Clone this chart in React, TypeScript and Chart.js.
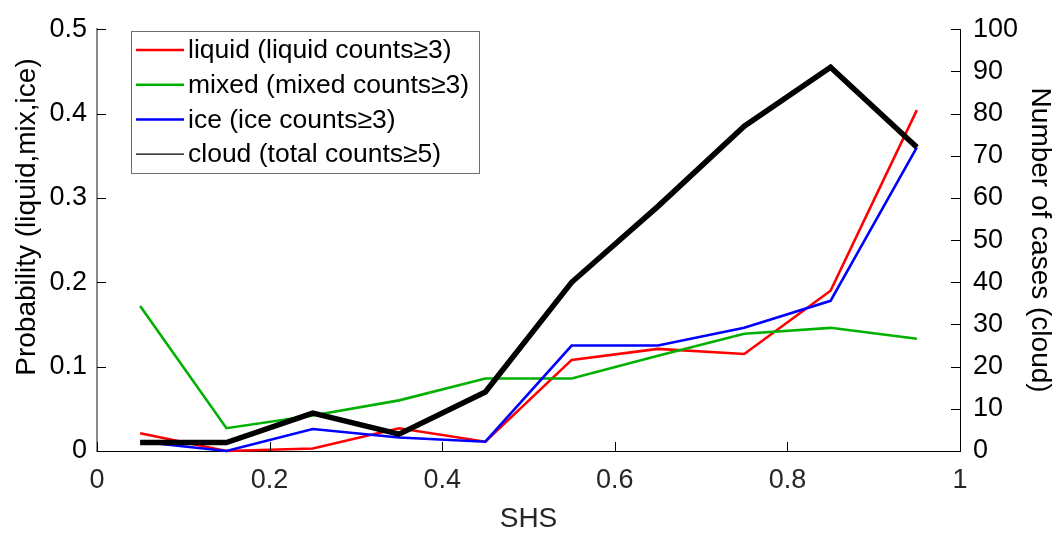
import { useEffect, useRef } from "react";
import { Chart, registerables } from "chart.js";

Chart.register(...registerables);

const FONT = '"Liberation Sans", Arial, Helvetica, sans-serif';

// SHS bin centres and per-bin values
const shsBins = [0.05, 0.15, 0.25, 0.35, 0.45, 0.55, 0.65, 0.75, 0.85, 0.95];
const liquidProb = [0.021, 0.0, 0.003, 0.027, 0.011, 0.108, 0.121, 0.115, 0.19, 0.404];
const mixedProb = [0.172, 0.027, 0.042, 0.06, 0.086, 0.086, 0.113, 0.139, 0.146, 0.133];
const iceProb = [0.011, 0.0, 0.026, 0.016, 0.011, 0.125, 0.125, 0.146, 0.178, 0.36];
const cloudCases = [2, 2, 9, 4, 14, 40, 58, 77, 91, 72];

// Axis ticks
const shsTicks = [0, 0.2, 0.4, 0.6, 0.8, 1];
const probTicks = [0, 0.1, 0.2, 0.3, 0.4, 0.5];
const caseTicks = [0, 10, 20, 30, 40, 50, 60, 70, 80, 90, 100];

const seriesLabels = [
  "liquid (liquid counts\u22653)",
  "mixed (mixed counts\u22653)",
  "ice (ice counts\u22653)",
  "cloud (total counts\u22655)",
];
const seriesColors = ["#ff0000", "#00b000", "#0000ff", "#000000"];

const probTitle = "Probability (liquid,mix,ice)";
const casesTitle = "Number of cases (cloud)";
const shsTitle = "SHS";

const toPoints = (ys: number[]) => shsBins.map((x, i) => ({ x, y: ys[i] }));

// Inward tick marks, the boxed legend and the left axis title
const axisDecor = {
  id: "axisDecor",
  afterDraw(chart: any) {
    const { ctx, chartArea, scales } = chart;
    const { left, right, bottom } = chartArea;
    const tickLen = 9;
    ctx.save();
    ctx.strokeStyle = "#000";
    ctx.lineWidth = 1;
    ctx.beginPath();
    for (const v of probTicks) {
      const y = Math.round(scales.y.getPixelForValue(v)) + 0.5;
      ctx.moveTo(left, y);
      ctx.lineTo(left + tickLen, y);
    }
    for (const v of caseTicks) {
      const y = Math.round(scales.y1.getPixelForValue(v)) + 0.5;
      ctx.moveTo(right, y);
      ctx.lineTo(right - tickLen, y);
    }
    for (const v of shsTicks) {
      const x = Math.round(scales.x.getPixelForValue(v)) + 0.5;
      ctx.moveTo(x, bottom);
      ctx.lineTo(x, bottom - tickLen);
    }
    ctx.stroke();

    // legend box
    const bx = 131.5, by = 31.5, bw = 348, bh = 142;
    ctx.fillStyle = "#ffffff";
    ctx.fillRect(bx, by, bw, bh);
    ctx.strokeStyle = "#6e6e6e";
    ctx.lineWidth = 1;
    ctx.strokeRect(bx, by, bw, bh);
    ctx.font = `26.5px ${FONT}`;
    ctx.textAlign = "left";
    ctx.textBaseline = "middle";
    chart.data.datasets.forEach((ds: any, i: number) => {
      const y = 50 + i * 34.7;
      ctx.strokeStyle = ds.borderColor;
      ctx.lineWidth = i === 3 ? 1.2 : 2.5;
      ctx.beginPath();
      ctx.moveTo(136, y);
      ctx.lineTo(184, y);
      ctx.stroke();
      ctx.fillStyle = "#000";
      ctx.fillText(ds.label, 188, y + 1);
    });

    // left axis title
    ctx.translate(27, 217);
    ctx.rotate(-Math.PI / 2);
    ctx.font = `28px ${FONT}`;
    ctx.textAlign = "center";
    ctx.textBaseline = "middle";
    ctx.fillStyle = "#000";
    ctx.fillText(probTitle, 0, 0);
    ctx.restore();
  },
};

export default function App() {
  const canvasRef = useRef<HTMLCanvasElement | null>(null);

  useEffect(() => {
    const canvas = canvasRef.current;
    if (!canvas) return;
    const chart = new Chart(canvas, {
      type: "line",
      data: {
        datasets: [
          { label: seriesLabels[0], data: toPoints(liquidProb), borderColor: seriesColors[0], borderWidth: 2.6, yAxisID: "y", order: 3, clip: false },
          { label: seriesLabels[1], data: toPoints(mixedProb), borderColor: seriesColors[1], borderWidth: 2.6, yAxisID: "y", order: 2, clip: false },
          { label: seriesLabels[2], data: toPoints(iceProb), borderColor: seriesColors[2], borderWidth: 2.6, yAxisID: "y", order: 1, clip: false },
          { label: seriesLabels[3], data: toPoints(cloudCases), borderColor: seriesColors[3], borderWidth: 5.5, yAxisID: "y1", order: 0, clip: false },
        ],
      } as any,
      options: {
        responsive: false,
        devicePixelRatio: 1,
        animation: false,
        events: [],
        layout: { padding: { top: 17, left: 0, right: 0, bottom: 0 } },
        elements: { point: { radius: 0 }, line: { tension: 0, fill: false } },
        plugins: { legend: { display: false }, tooltip: { enabled: false } },
        scales: {
          x: {
            type: "linear",
            position: "bottom",
            min: 0,
            max: 1,
            afterBuildTicks: (s: any) => { s.ticks = shsTicks.map((value) => ({ value })); },
            afterFit: (s: any) => { s.height = 86; },
            grid: { display: false, drawTicks: false },
            border: { display: true, color: "#000", width: 1 },
            ticks: { font: { family: FONT, size: 27 }, color: "#262626", padding: 13, maxRotation: 0, callback: (v: any) => String(v) },
            title: { display: true, text: shsTitle, font: { family: FONT, size: 28 }, color: "#262626", padding: { top: 0, bottom: 1 } },
          },
          y: {
            type: "linear",
            position: "left",
            min: 0,
            max: 0.5,
            afterBuildTicks: (s: any) => { s.ticks = probTicks.map((value) => ({ value })); },
            afterFit: (s: any) => { s.width = 97; },
            grid: { display: false, drawTicks: false },
            border: { display: true, color: "#8a8a8a", width: 2 },
            ticks: { font: { family: FONT, size: 27 }, color: "#000", padding: 10, callback: (v: any) => String(v) },
          },
          y1: {
            type: "linear",
            position: "right",
            min: 0,
            max: 100,
            afterBuildTicks: (s: any) => { s.ticks = caseTicks.map((value) => ({ value })); },
            afterFit: (s: any) => { s.width = 104; },
            grid: { display: false, drawTicks: false },
            border: { display: true, color: "#000", width: 1 },
            ticks: { font: { family: FONT, size: 27 }, color: "#000", padding: 13, callback: (v: any) => String(v) },
            title: { display: true, text: casesTitle, font: { family: FONT, size: 28 }, color: "#000", padding: { top: 7, bottom: 0 } },
          },
        },
      } as any,
      plugins: [axisDecor],
    });
    return () => chart.destroy();
  }, []);

  return (
    <div style={{ position: "fixed", left: 0, top: 0, width: 1064, height: 537, background: "#fff" }}>
      <canvas ref={canvasRef} width={1064} height={537} style={{ display: "block", width: 1064, height: 537 }} />
    </div>
  );
}
